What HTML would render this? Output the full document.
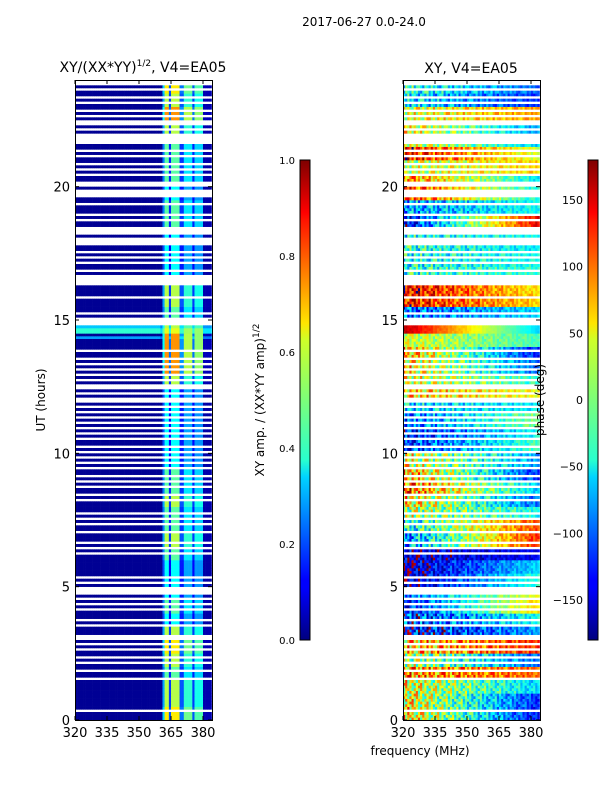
<!DOCTYPE html>
<html><head><meta charset="utf-8">
<style>
html,body{margin:0;padding:0;background:#fff;}
svg{display:block;font-family:"DejaVu Sans","Liberation Sans",sans-serif;}
text{fill:#000;}
</style></head>
<body>
<svg id="fig" width="600" height="800" viewBox="0 0 600 800" xmlns="http://www.w3.org/2000/svg">
<defs>
<linearGradient id="jet" x1="0" y1="1" x2="0" y2="0">
<stop offset="0" stop-color="#00007f"/><stop offset="0.11" stop-color="#0000ff"/><stop offset="0.125" stop-color="#0000ff"/>
<stop offset="0.34" stop-color="#00d4ff"/><stop offset="0.375" stop-color="#29ffce"/><stop offset="0.5" stop-color="#7cff79"/>
<stop offset="0.625" stop-color="#ceff29"/><stop offset="0.66" stop-color="#ffe500"/><stop offset="0.875" stop-color="#ff1300"/>
<stop offset="0.89" stop-color="#ff0000"/><stop offset="1" stop-color="#7f0000"/>
</linearGradient>
</defs>
<text x="364" y="26" font-size="12" text-anchor="middle">2017-06-27 0.0-24.0</text>
<text x="143" y="72" font-size="14" text-anchor="middle">XY/(XX*YY)<tspan font-size="9" dy="-6">1/2</tspan><tspan dy="6">, V4=EA05</tspan></text>
<text x="471" y="73" font-size="14" text-anchor="middle">XY, V4=EA05</text>
<g id="leftHeat"></g>
<g id="rightHeat"></g>
<g id="axes"></g>
<text x="420" y="755" font-size="12" text-anchor="middle">frequency (MHz)</text>
<text transform="translate(45,400) rotate(-90)" font-size="12" text-anchor="middle">UT (hours)</text>
<rect x="300" y="160" width="10" height="480" fill="url(#jet)" stroke="#000" stroke-width="1"/>
<rect x="588" y="160" width="10" height="480" fill="url(#jet)" stroke="#000" stroke-width="1"/>
<text transform="translate(264,400) rotate(-90)" font-size="12" text-anchor="middle">XY amp. / (XX*YY amp)<tspan font-size="9" dy="-5">1/2</tspan></text>
<text transform="translate(544,400) rotate(-90)" font-size="12" text-anchor="middle">phase (deg)</text>
</svg>
<script>
const flagHours = ["0001000000","0000010010","0101001010","1100010100","0101010111","0101000000","0010101000","1001010100","0010100101","0100101010","1010010101","0101010101","1010110101","0101010010","0000000011","1010000010","0001111010","0101010011","1011100101","0001001110","1100101010","0101001111","0101101010","0101001011"];
const ampLevels = [7,6,6,5,6,7,6,4,5,4, 4,4,5,6,5,5,6,5,5,4, 4,4,4,4,4,6,8,8,8,6, 5,6,6,4,4,4,4,5,5,4, 5,5,5,5,6,8,6,7];
const ampProfile = [0,0,0,0,0,0,0,0,0,0,0,0,0,0,0,0,0,0,0,0,0,0,0,0,0,0,0,0,0,0,0,0,0,0,0,0,0,0,0,0,0,0.5,1,1,0.3,1,1,1,1,0.35,0.35,0.75,0.75,0.75,0.75,0.3,0.7,0.7,0.7,0.7,0.05,0.05,0.05,0.05];
const broadBands = [[14.5,14.7,0.42],[14.35,14.45,0.28],[14.75,14.8,0.32]];
const phaseLo = [60,50,40,80,20,60,-140,-120,-130,-100,-160,-160,-150,-90,-50,20,60,100,80,40,-120,-130,-100,-60,60,40,60,80,30,160,-100,130,140,-30,-40,-30,-40,-140,-80,120,90,20,130,40,50,30,-50,-30];
const phaseHi = [-130,-120,-60,100,-100,120,-80,-40,60,40,-30,-60,-140,120,110,-40,-100,-60,-120,-80,-20,-40,0,-50,40,-30,-100,-130,-20,-60,-60,60,50,-30,-40,-50,-40,140,-40,-40,-50,60,30,-60,-80,80,-120,-100];
const noiseAmp = [80,80,80,80,80,80,80,80,50,50,50,50,50,70,70,80,80,80,80,80,60,60,60,60,70,70,70,70,40,10,60,60,60,60,60,60,60,60,60,60,60,60,60,60,60,60,60,60];
const texture = [0.9,-0.6,0.2,-1,0.7,0.1,-0.4,1,-0.8,0.3,0.5,-0.2,-0.9,0.6,0,-0.5,0.8,-0.3,0.4,-0.7,-1,0.2,0.9];
const xTicks = [320,335,350,365,380];
const yTicks = [0,5,10,15,20];
const ampTicks = ["0.0","0.2","0.4","0.6","0.8","1.0"];
const phaseTicks = [-150,-100,-50,0,50,100,150];

const NS="http://www.w3.org/2000/svg";
const X0L=75,X0R=403,PW=137,TOP=80,BOT=720;
const fx=(f,x0)=>x0+(f-320)*(128/60);
const fy=h=>BOT-h*(BOT-TOP)/24;
function jet(v){v=Math.max(0,Math.min(1,v));const c=t=>Math.round(255*Math.max(0,Math.min(1,1.5-Math.abs(4*v-t))));return `rgb(${c(3)},${c(2)},${c(1)})`;}
const flags=flagHours.join("").split("").map(Number);
function rect(g,x,y,w,h,fill){const r=document.createElementNS(NS,"rect");r.setAttribute("x",x.toFixed(2));r.setAttribute("y",y.toFixed(2));r.setAttribute("width",w.toFixed(2));r.setAttribute("height",h.toFixed(2));r.setAttribute("fill",fill);g.appendChild(r);return r;}
const gL=document.getElementById("leftHeat"),gR=document.getElementById("rightHeat");
for(let i=0;i<flags.length;i++){
  if(flags[i])continue;
  const h0=i*0.1,h1=h0+0.1,y=fy(h1),hh=fy(h0)-fy(h1)+0.3;
  const k=Math.min(ampLevels.length-1,Math.floor(h0/0.5));
  const lvl=ampLevels[k]/9;
  let bb=0;broadBands.forEach(b=>{if(h0+0.05>=b[0]&&h0+0.05<b[1])bb=b[2];});
  for(let c=0;c<ampProfile.length;c++){
    let v=0.02+ampProfile[c]*lvl*0.8;
    if(bb)v=Math.max(v,bb*(c<40?1:0.8)+ampProfile[c]*lvl*0.4);
    const r=rect(gL,fx(320+c,X0L),y,128/60+0.3,hh,jet(v));
    
    
  }
  for(let c=0;c<64;c++){
    const t=c/63;
    let p=phaseLo[k]*(1-t)+phaseHi[k]*t + noiseAmp[k]*(1-0.7*t)*texture[(c+i*7)%texture.length];
    p=((p+180)%360+360)%360;
    const r=rect(gR,fx(320+c,X0R),y,128/60+0.3,hh,jet(p/360));
    
    
  }
}
const ax=document.getElementById("axes");
function line(x1,y1,x2,y2){const l=document.createElementNS(NS,"line");l.setAttribute("x1",x1);l.setAttribute("y1",y1);l.setAttribute("x2",x2);l.setAttribute("y2",y2);l.setAttribute("stroke","#000");l.setAttribute("stroke-width","1");ax.appendChild(l);return l;}
function txt(x,y,s,anchor,size){const t=document.createElementNS(NS,"text");t.setAttribute("x",x);t.setAttribute("y",y);t.setAttribute("font-size",size||13);t.setAttribute("text-anchor",anchor);t.textContent=s;ax.appendChild(t);return t;}
[X0L,X0R].forEach((x0,pi)=>{
  const f=document.createElementNS(NS,"rect");f.setAttribute("x",x0+0.5);f.setAttribute("y",TOP+0.5);f.setAttribute("width",PW);f.setAttribute("height",BOT-TOP);f.setAttribute("fill","none");f.setAttribute("stroke","#000");
  
  
  ax.appendChild(f);
  xTicks.forEach(v=>{const x=fx(v,x0);line(x,BOT,x,BOT-4);line(x,TOP,x,TOP+4);const t=txt(x,BOT+17,String(v),"middle");
    
    });
  yTicks.forEach(v=>{const y=fy(v);line(x0,y,x0+4,y);line(x0+PW,y,x0+PW-4,y);const t=txt(x0-5,y+5,String(v),"end");
    
    });
});
ampTicks.forEach((s,i)=>{const y=640-i*96;line(300,y,304,y);line(310,y,306,y);const t=txt(295,y+4,s,"end",10);
  
  });
phaseTicks.forEach(v=>{const y=640-(v+180)/360*480;line(588,y,592,y);line(598,y,594,y);const t=txt(583,y+4,String(v).replace("-","\u2212"),"end",11);
  
  });
</script>
</body></html>
